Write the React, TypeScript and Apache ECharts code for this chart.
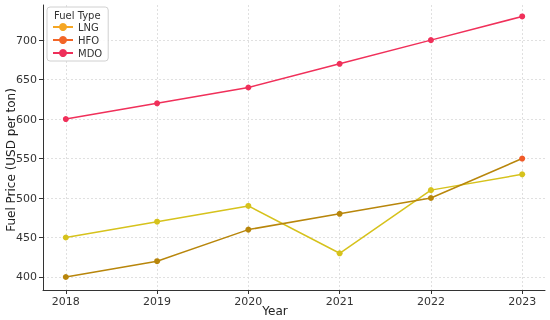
import React, { useEffect, useRef } from "react";
import * as echarts from "echarts";

const years = [2018, 2019, 2020, 2021, 2022, 2023];
const lng = [450, 470, 490, 430, 510, 530];
const hfo = [400, 420, 460, 480, 500, 550];
const mdo = [600, 620, 640, 670, 700, 730];
const yTicks = [400, 450, 500, 550, 600, 650, 700];

const FONT = "DejaVu Sans";

export default function App() {
  const ref = useRef<HTMLDivElement>(null);
  useEffect(() => {
    if (!ref.current) return;
    const chart = echarts.init(ref.current, undefined, { renderer: "svg" });
    const pts = (vals: number[]) => years.map((y, i) => [y, vals[i]]);
    const hfoData = years.map((y, i) =>
      i === years.length - 1
        ? { value: [y, hfo[i]], itemStyle: { color: "#f05a28" } }
        : { value: [y, hfo[i]] }
    );
    chart.setOption({
      animation: false,
      textStyle: { fontFamily: FONT },
      grid: { left: 43, right: 5, top: 5, bottom: 30, containLabel: false, outerBoundsMode: "none" },
      xAxis: {
        type: "value",
        min: 2017.75,
        max: 2023.25,
        axisLine: { show: true, lineStyle: { color: "#333", width: 1 } },
        axisTick: { show: true, customValues: years, length: 4, lineStyle: { color: "#333" } },
        axisLabel: {
          customValues: years,
          formatter: (v: number) => String(v),
          fontSize: 11,
          color: "#333",
          margin: 6,
          fontFamily: FONT,
        },
        splitLine: { show: true, lineStyle: { color: "#d8d8d8", type: [2, 2], width: 0.8 } },
      },
      yAxis: {
        type: "value",
        min: 383.5,
        max: 744.5,
        axisLine: { show: true, lineStyle: { color: "#333", width: 1 } },
        axisTick: { show: true, customValues: yTicks, length: 4, lineStyle: { color: "#333" } },
        axisLabel: {
          customValues: yTicks,
          formatter: (v: number) => String(v),
          fontSize: 11,
          color: "#333",
          margin: 6,
          fontFamily: FONT,
        },
        splitLine: { show: true, lineStyle: { color: "#d8d8d8", type: [2, 2], width: 0.8 } },
      },
      legend: {
        orient: "vertical",
        left: 47,
        top: 7,
        padding: [15, 6, 3, 5],
        itemGap: 3,
        itemWidth: 20,
        itemHeight: 10,
        backgroundColor: "rgba(255,255,255,0.85)",
        borderColor: "#d0d0d0",
        borderWidth: 1,
        borderRadius: 3,
        textStyle: { fontSize: 10, color: "#333", fontFamily: FONT },
        data: [
          { name: "LNG", itemStyle: { color: "#f5a623" }, lineStyle: { color: "#f5a623" } },
          { name: "HFO", itemStyle: { color: "#f26527" }, lineStyle: { color: "#f26527" } },
          { name: "MDO", itemStyle: { color: "#ee2f5a" }, lineStyle: { color: "#ee2f5a" } },
        ],
      },
      graphic: [
        {
          type: "text",
          left: 54,
          top: 10,
          z: 100,
          style: { text: "Fuel Type", fontSize: 10, fill: "#333", fontFamily: FONT },
        },
        {
          type: "text",
          left: "center",
          bottom: 3,
          style: {
            text: "Year",
            fontSize: 12,
            fill: "#222",
            fontFamily: FONT,
          },
        },
        {
          type: "text",
          left: 5,
          top: "middle",
          rotation: Math.PI / 2,
          style: {
            text: "Fuel Price (USD per ton)",
            fontSize: 12,
            fill: "#222",
            fontFamily: FONT,
          },
        },
      ],
      series: [
        {
          name: "LNG",
          type: "line",
          data: pts(lng),
          symbol: "circle",
          symbolSize: 6,
          lineStyle: { color: "#d6c21c", width: 1.5 },
          itemStyle: { color: "#d6c21c" },
        },
        {
          name: "HFO",
          type: "line",
          data: hfoData,
          symbol: "circle",
          symbolSize: 6,
          lineStyle: { color: "#b8860b", width: 1.5 },
          itemStyle: { color: "#b8860b" },
        },
        {
          name: "MDO",
          type: "line",
          data: pts(mdo),
          symbol: "circle",
          symbolSize: 6,
          lineStyle: { color: "#f0305a", width: 1.5 },
          itemStyle: { color: "#f0305a" },
        },
      ],
    });
    return () => chart.dispose();
  }, []);
  return (
    <div
      ref={ref}
      style={{ position: "fixed", left: 0, top: 0, width: 550, height: 320 }}
    />
  );
}
